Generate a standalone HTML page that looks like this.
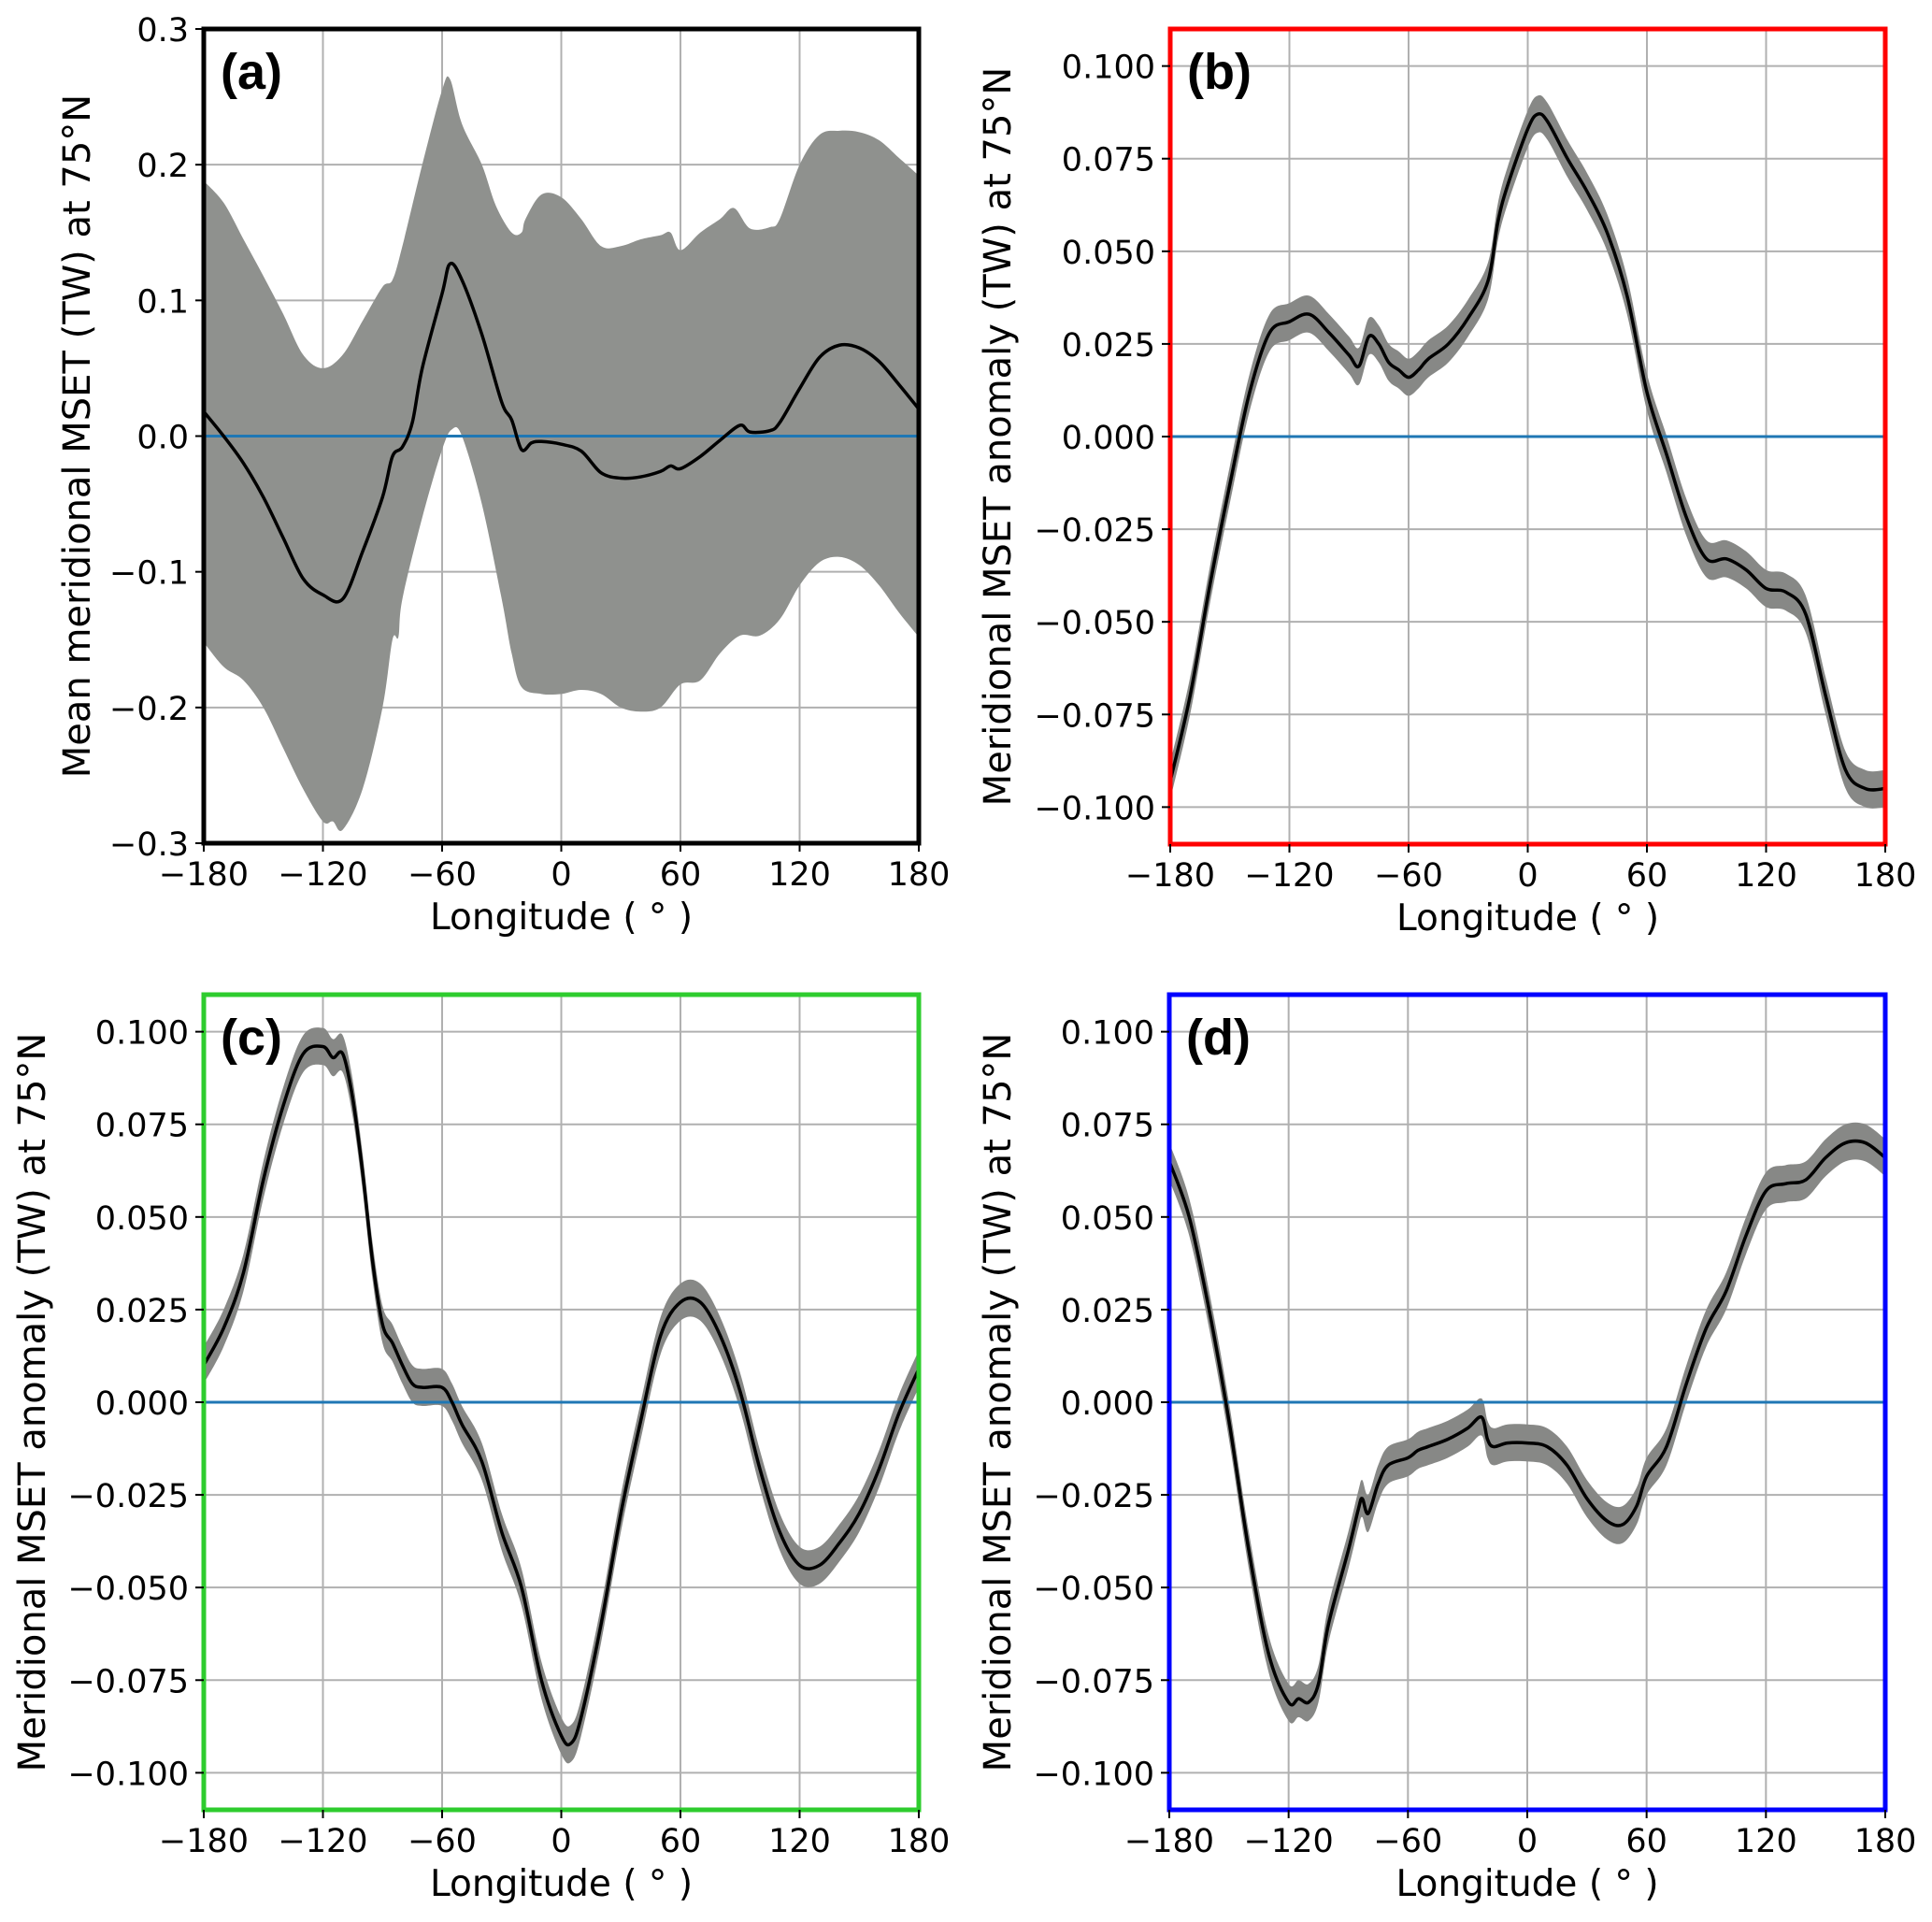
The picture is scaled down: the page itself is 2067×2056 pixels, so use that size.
<!DOCTYPE html>
<html><head><meta charset="utf-8"><style>
html,body{margin:0;padding:0;background:#fff;}
svg{display:block;}
text{font-family:"DejaVu Sans","Liberation Sans",sans-serif;fill:#000;}
</style></head><body>
<svg id="fig" width="2067" height="2056" viewBox="0 0 2067 2056" xmlns="http://www.w3.org/2000/svg"></svg>
<script>
// ---- shared axis data ----
const lonTicks = [-180,-120,-60,0,60,120,180];
const ticksA = [-0.3,-0.2,-0.1,0,0.1,0.2,0.3];
const ticksAnom = [-0.1,-0.075,-0.05,-0.025,0,0.025,0.05,0.075,0.1];

// ---- panel (a) ----
const lonA = [-180,-170,-160,-150,-140,-130,-120,-110,-100,-90,-85,-80,-75,-70,-60,-56,-50,-40,-30,-25,-20,-15,-10,0,10,20,30,40,50,55,60,70,80,90,95,105,110,120,130,140,150,160,170,180];
const meanA = [0.018,0,-0.02,-0.045,-0.075,-0.105,-0.117,-0.12,-0.085,-0.045,-0.015,-0.008,0.01,0.05,0.105,0.127,0.115,0.075,0.025,0.012,-0.01,-0.005,-0.004,-0.006,-0.011,-0.027,-0.031,-0.03,-0.026,-0.022,-0.024,-0.015,-0.003,0.008,0.003,0.004,0.01,0.035,0.058,0.067,0.065,0.055,0.038,0.02];
const lonAU = [-180,-170,-160,-150,-140,-130,-120,-110,-100,-90,-85,-80,-70,-60,-56,-50,-40,-33,-25,-20,-18,-10,0,10,20,30,40,50,55,60,70,80,87,95,105,110,120,130,140,150,160,170,180];
const upperA = [0.188,0.172,0.145,0.118,0.09,0.06,0.05,0.06,0.085,0.11,0.115,0.14,0.2,0.255,0.263,0.23,0.2,0.17,0.15,0.15,0.16,0.178,0.176,0.16,0.14,0.14,0.145,0.148,0.15,0.137,0.15,0.16,0.168,0.153,0.154,0.16,0.2,0.222,0.225,0.224,0.218,0.205,0.192];
const lonAL = [-180,-170,-160,-150,-140,-130,-120,-115,-110,-100,-90,-85,-82,-80,-70,-60,-55,-50,-40,-30,-25,-20,-10,0,10,20,30,40,50,60,70,80,90,100,110,120,130,140,150,160,170,180];
const lowerA = [-0.152,-0.17,-0.18,-0.2,-0.23,-0.26,-0.284,-0.284,-0.29,-0.26,-0.2,-0.15,-0.148,-0.12,-0.06,-0.01,0.005,0,-0.05,-0.12,-0.16,-0.185,-0.19,-0.19,-0.187,-0.19,-0.2,-0.203,-0.2,-0.183,-0.18,-0.16,-0.147,-0.147,-0.135,-0.11,-0.093,-0.089,-0.095,-0.11,-0.13,-0.148];

// ---- panel (b) ----
const lonB = [-180,-170,-160,-150,-140,-130,-120,-110,-100,-90,-85,-80,-75,-70,-65,-60,-55,-50,-40,-30,-20,-15,-10,0,5,10,20,30,40,50,60,70,80,90,100,110,120,130,140,150,160,170,180];
const valB = [-0.093,-0.07,-0.04,-0.013,0.012,0.028,0.031,0.033,0.028,0.022,0.019,0.027,0.025,0.02,0.018,0.016,0.018,0.021,0.025,0.032,0.042,0.058,0.068,0.083,0.087,0.085,0.075,0.066,0.055,0.038,0.012,-0.005,-0.022,-0.033,-0.033,-0.036,-0.041,-0.042,-0.048,-0.07,-0.09,-0.095,-0.095];

// ---- panel (c) ----
const lonC = [-180,-170,-160,-150,-140,-130,-120,-115,-110,-105,-100,-95,-90,-85,-80,-75,-70,-60,-55,-50,-40,-30,-20,-10,0,5,10,20,30,40,50,60,70,80,90,100,110,120,130,140,150,160,170,180];
const valC = [0.01,0.02,0.035,0.06,0.08,0.094,0.096,0.093,0.094,0.082,0.062,0.038,0.021,0.016,0.01,0.005,0.004,0.004,0,-0.006,-0.016,-0.035,-0.05,-0.075,-0.09,-0.092,-0.085,-0.06,-0.03,-0.005,0.018,0.027,0.027,0.018,0.003,-0.018,-0.035,-0.044,-0.044,-0.038,-0.03,-0.018,-0.003,0.009];

// ---- panel (d) ----
const lonD = [-180,-170,-160,-150,-140,-130,-120,-115,-110,-105,-100,-90,-85,-83,-80,-75,-70,-60,-55,-50,-40,-30,-23,-20,-17,-10,0,10,20,30,40,48,55,60,70,80,90,100,110,120,130,140,150,160,170,180];
const valD = [0.065,0.05,0.025,-0.005,-0.04,-0.068,-0.081,-0.08,-0.081,-0.076,-0.06,-0.04,-0.029,-0.026,-0.03,-0.022,-0.017,-0.015,-0.013,-0.012,-0.01,-0.007,-0.004,-0.01,-0.012,-0.011,-0.011,-0.012,-0.017,-0.026,-0.032,-0.033,-0.028,-0.02,-0.012,0.005,0.02,0.03,0.045,0.057,0.059,0.06,0.066,0.07,0.07,0.066];

const bandHalf = 0.005;
const NS = "http://www.w3.org/2000/svg";
const svg = document.getElementById('fig');

function mk(tag, attrs, parent){
  const e = document.createElementNS(NS, tag);
  for (const k in attrs) e.setAttribute(k, attrs[k]);
  (parent||svg).appendChild(e);
  return e;
}
function fmt(v, dec){
  const s = Math.abs(v).toFixed(dec);
  return (v < -1e-9 ? "\u2212" : "") + s;
}
function smooth(pts, moveFirst){
  let d = moveFirst ? `M${pts[0][0]},${pts[0][1]}` : `L${pts[0][0]},${pts[0][1]}`;
  for (let i=0;i<pts.length-1;i++){
    const p0=pts[Math.max(0,i-1)], p1=pts[i], p2=pts[i+1], p3=pts[Math.min(pts.length-1,i+2)];
    const c1x=p1[0]+(p2[0]-p0[0])/6, c1y=p1[1]+(p2[1]-p0[1])/6;
    const c2x=p2[0]-(p3[0]-p1[0])/6, c2y=p2[1]-(p3[1]-p1[1])/6;
    d += ` C${c1x.toFixed(2)},${c1y.toFixed(2)} ${c2x.toFixed(2)},${c2y.toFixed(2)} ${p2[0].toFixed(2)},${p2[1].toFixed(2)}`;
  }
  return d;
}

function panel(cfg){
  const {L,R,T,B,ymin,ymax,yticks,dec,frame,label,name} = cfg;
  const g = mk('g', {});
  
  
  const x = v => L + (v+180)/360*(R-L);
  const y = v => B - (v-ymin)/(ymax-ymin)*(B-T);
  const clipId = 'clip-'+label;
  const cp = mk('clipPath', {id:clipId}, g);
  mk('rect', {x:L, y:T, width:R-L, height:B-T}, cp);
  const grid = mk('g', {}, g);
  
  
  lonTicks.forEach(t => mk('line', {x1:x(t), x2:x(t), y1:T, y2:B, stroke:'#b0b0b0', 'stroke-width':2}, grid));
  yticks.forEach(t => mk('line', {x1:L, x2:R, y1:y(t), y2:y(t), stroke:'#b0b0b0', 'stroke-width':2}, grid));
  const plot = mk('g', {'clip-path':`url(#${clipId})`}, g);
  let up, lo;
  if (cfg.upper){
    up = cfg.upperLon.map((l,i)=>[x(l), y(cfg.upper[i])]);
    lo = cfg.lowerLon.map((l,i)=>[x(l), y(cfg.lower[i])]);
  } else {
    up = cfg.lon.map((l,i)=>[x(l), y(cfg.vals[i]+bandHalf)]);
    lo = cfg.lon.map((l,i)=>[x(l), y(cfg.vals[i]-bandHalf)]);
  }
  const band = mk('path', {d: smooth(up,true) + ' ' + smooth(lo.slice().reverse(),false) + ' Z', fill: cfg.bandColor, stroke:'none'}, plot);
  
  
  const zl = mk('line', {x1:L, x2:R, y1:y(0), y2:y(0), stroke:'#1f77b4', 'stroke-width':3}, plot);
  
  
  const mean = cfg.lon.map((l,i)=>[x(l), y(cfg.vals[i])]);
  const ml = mk('path', {d: smooth(mean,true), fill:'none', stroke:'#000', 'stroke-width':3.5}, plot);
  
  
  const fr = mk('rect', {x:L, y:T, width:R-L, height:B-T, fill:'none', stroke:frame, 'stroke-width':5}, g);
  
  
  lonTicks.forEach(t => {
    mk('line', {x1:x(t), x2:x(t), y1:B, y2:B+9, stroke:'#000', 'stroke-width':2}, g);
    const tx = mk('text', {x:x(t), y:B+45, 'font-size':35, 'text-anchor':'middle'}, g);
    tx.textContent = fmt(t,0);
    
    
  });
  yticks.forEach(t => {
    mk('line', {x1:L-9, x2:L, y1:y(t), y2:y(t), stroke:'#000', 'stroke-width':2}, g);
    const tx = mk('text', {x:L-16, y:y(t)+13, 'font-size':35, 'text-anchor':'end'}, g);
    tx.textContent = fmt(t,dec);
    
    
  });
  const xl = mk('text', {x:(L+R)/2, y:B+92, 'font-size':39, 'text-anchor':'middle'}, g);
  xl.textContent = 'Longitude ( \u00B0 )';
  
  
  const yl = mk('text', {x:0, y:0, 'font-size':40, 'text-anchor':'middle', transform:`translate(${cfg.ylx},${(T+B)/2}) rotate(-90)`}, g);
  yl.textContent = cfg.ylabel;
  
  
  const pl = mk('text', {x:L+18, y:T+64, 'font-size':54, 'font-weight':'bold', style:'font-family:"Liberation Sans",sans-serif'}, g);
  pl.textContent = '('+label+')';
  
  
}

const anomLabel = 'Meridional MSET anomaly (TW) at 75\u00B0N';
panel({name:'panel-a', label:'a', L:218, R:983, T:31, B:902, ymin:-0.3, ymax:0.3, yticks:ticksA, dec:1, frame:'#000',
  lon:lonA, vals:meanA, upperLon:lonAU, upper:upperA, lowerLon:lonAL, lower:lowerA, bandColor:'#8f918e',
  ylabel:'Mean meridional MSET (TW) at 75\u00B0N', ylx:96});
panel({name:'panel-b', label:'b', L:1252, R:2017, T:31, B:903, ymin:-0.11, ymax:0.11, yticks:ticksAnom, dec:3, frame:'#ff0000',
  lon:lonB, vals:valB, bandColor:'#878886', ylabel:anomLabel, ylx:1081});
panel({name:'panel-c', label:'c', L:218, R:983, T:1064, B:1936, ymin:-0.11, ymax:0.11, yticks:ticksAnom, dec:3, frame:'#2ecc2e',
  lon:lonC, vals:valC, bandColor:'#878886', ylabel:anomLabel, ylx:48});
panel({name:'panel-d', label:'d', L:1251, R:2017, T:1064, B:1936, ymin:-0.11, ymax:0.11, yticks:ticksAnom, dec:3, frame:'#0000ff',
  lon:lonD, vals:valD, bandColor:'#878886', ylabel:anomLabel, ylx:1081});
</script>
</body></html>
